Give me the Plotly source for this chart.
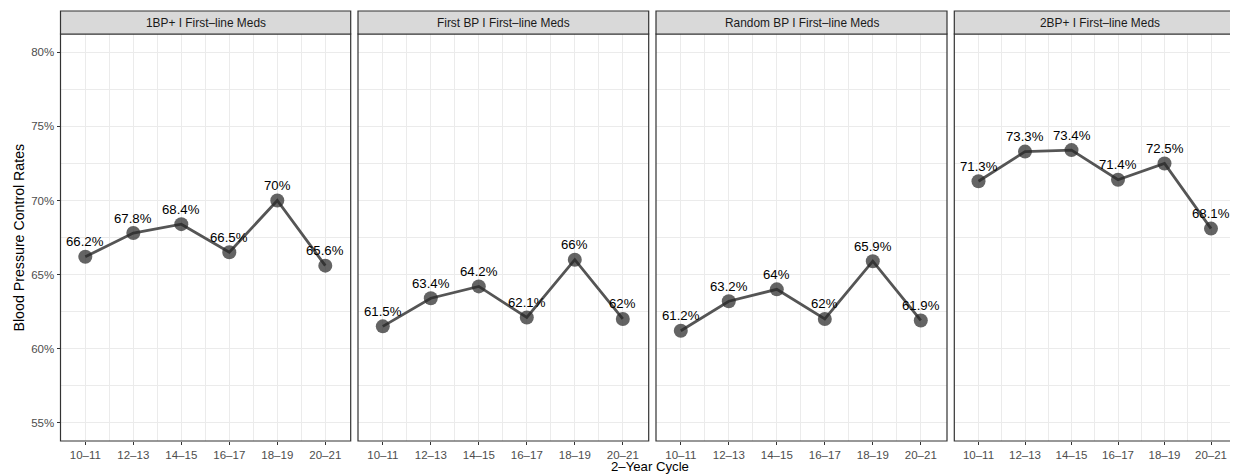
import plotly.graph_objects as go

# The page body has an 8px margin, so the figure is offset by OFF px.
OFF = 8
W_REF, H_REF = 1238, 476
W, H = W_REF - OFF, H_REF - OFF
VIS_RIGHT = 1230  # right-most visible page pixel

cycles = ["10–11", "12–13", "14–15", "16–17", "18–19", "20–21"]
panel_titles = ["1BP+ I First–line Meds", "First BP I First–line Meds",
                "Random BP I First–line Meds", "2BP+ I First–line Meds"]
rates_1bp = [66.2, 67.8, 68.4, 66.5, 70.0, 65.6]
rates_first = [61.5, 63.4, 64.2, 62.1, 66.0, 62.0]
rates_random = [61.2, 63.2, 64.0, 62.0, 65.9, 61.9]
rates_2bp = [71.3, 73.3, 73.4, 71.4, 72.5, 68.1]
series = [rates_1bp, rates_first, rates_random, rates_2bp]
y_ticks = [55, 60, 65, 70, 75, 80]
y_minor = [57.5, 62.5, 67.5, 72.5, 77.5]

FONT = "Liberation Sans, Arial, Helvetica, sans-serif"

def fx(px):
    return (px - OFF) / W

def fy(py):
    return 1 - (py - OFF) / H

# panel pixel extents (reference page coords); last panel is cut at the image edge
panels_px = [(60.5, 350.7), (358.0, 648.7), (656.0, 947.0), (954.3, 1245.0)]
# (pixels per category, offset of first tick from panel left)
panel_scale = [(48.0, 24.8), (48.0, 24.8), (48.0, 24.8), (46.5, 24.2)]
plot_top, plot_bot = 34.0, 441.0
strip_top = 11.0

fig = go.Figure()
xs = list(range(1, len(cycles) + 1))

for i, (vals, (l, r), (ppu, first)) in enumerate(zip(series, panels_px, panel_scale)):
    idx = "" if i == 0 else str(i + 1)
    fig.add_trace(go.Scatter(
        x=xs, y=vals,
        mode="lines+markers",
        line=dict(color="#555555", width=2.8),
        marker=dict(size=14, color="rgba(40,40,40,0.72)"),
        xaxis="x" + idx, yaxis="y" + idx,
        showlegend=False, cliponaxis=False,
        hoverinfo="skip",
    ))
    for xv, v in zip(xs, vals):
        fig.add_annotation(x=xv, y=v, xref="x" + idx, yref="y" + idx,
                           text=f"{v:g}%", showarrow=False, yshift=15,
                           xanchor="center", yanchor="middle",
                           font=dict(family=FONT, size=13.2, color="#000000"))
    r_vis = min(r, VIS_RIGHT)
    x0 = 1 - first / ppu
    x1 = x0 + (r_vis - l) / ppu
    common_grid = dict(gridcolor="#ebebeb", gridwidth=1.1, zeroline=False, showline=False)
    fig.layout["xaxis" + idx] = dict(
        domain=[fx(l), fx(r_vis)], range=[x0, x1], anchor="y" + idx,
        tickvals=xs, ticktext=cycles, ticks="outside", ticklen=3,
        tickcolor="#333333", tickwidth=1,
        tickfont=dict(family=FONT, size=11.5, color="#4d4d4d"),
        minor=dict(tickvals=[1.5, 2.5, 3.5, 4.5, 5.5], showgrid=True,
                   gridcolor="#ebebeb", gridwidth=0.6, ticks=""),
        **common_grid,
    )
    fig.layout["yaxis" + idx] = dict(
        domain=[fy(plot_bot), fy(plot_top)], range=[53.76, 81.24], anchor="x" + idx,
        tickvals=y_ticks, ticktext=[f"{t}%" for t in y_ticks],
        showticklabels=(i == 0), ticks="outside" if i == 0 else "", ticklen=3,
        tickcolor="#333333", tickwidth=1,
        tickfont=dict(family=FONT, size=11.5, color="#4d4d4d"),
        minor=dict(tickvals=y_minor, showgrid=True, gridcolor="#ebebeb",
                   gridwidth=0.6, ticks=""),
        **common_grid,
    )
    # panel border
    fig.add_shape(type="rect", xref="paper", yref="paper",
                  x0=fx(l), x1=fx(r), y0=fy(plot_bot), y1=fy(plot_top),
                  line=dict(color="#333333", width=1.2), fillcolor="rgba(0,0,0,0)",
                  layer="above")
    # strip
    fig.add_shape(type="rect", xref="paper", yref="paper",
                  x0=fx(l), x1=fx(r), y0=fy(plot_top), y1=fy(strip_top),
                  line=dict(color="#333333", width=1.2), fillcolor="#d9d9d9",
                  layer="above")
    fig.add_annotation(xref="paper", yref="paper",
                       x=fx((l + r) / 2), y=fy((plot_top + strip_top) / 2),
                       text=panel_titles[i], showarrow=False,
                       xanchor="center", yanchor="middle",
                       font=dict(family=FONT, size=11.9, color="#1a1a1a"))

fig.add_annotation(xref="paper", yref="paper", x=fx(650), y=fy(466),
                   text="2–Year Cycle", showarrow=False,
                   xanchor="center", yanchor="middle",
                   font=dict(family=FONT, size=13.2, color="#000000"))
fig.add_annotation(xref="paper", yref="paper", x=fx(18), y=fy((plot_top + plot_bot) / 2),
                   text="Blood Pressure Control Rates", showarrow=False, textangle=-90,
                   xanchor="center", yanchor="middle",
                   font=dict(family=FONT, size=14.2, color="#000000"))

fig.update_layout(
    width=W, height=H,
    margin=dict(l=0, r=0, t=0, b=0),
    paper_bgcolor="white", plot_bgcolor="white",
)

fig.write_html("out.html")
